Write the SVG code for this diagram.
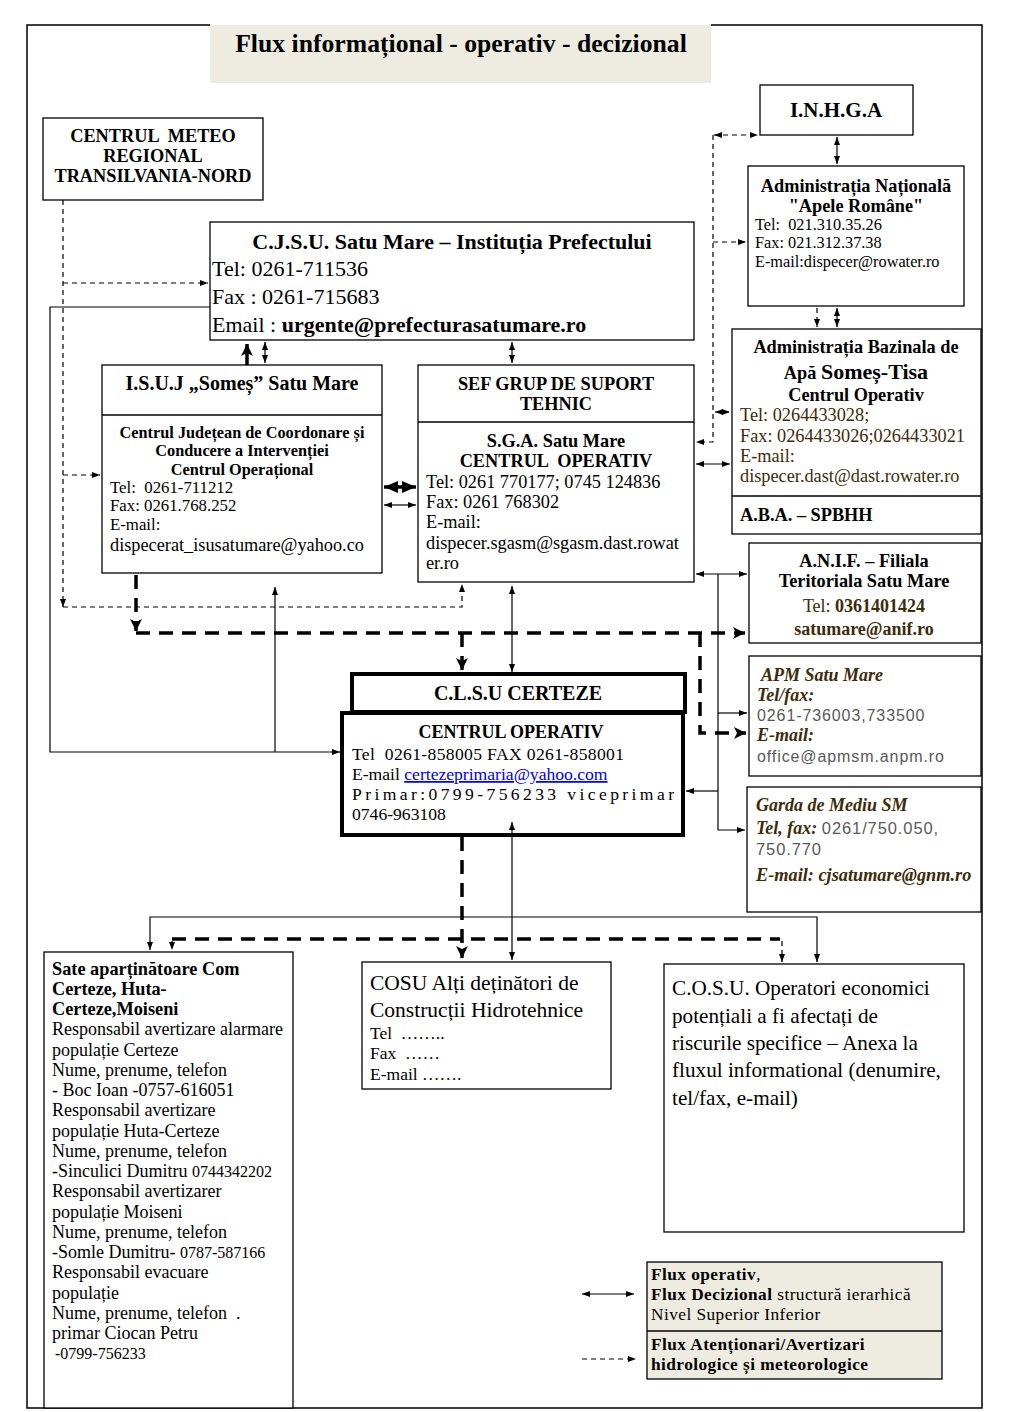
<svg xmlns="http://www.w3.org/2000/svg" width="1018" height="1412" viewBox="0 0 1018 1412">
<defs>
<marker id="a" viewBox="0 0 8 6" refX="8" refY="3" markerWidth="8" markerHeight="6" markerUnits="userSpaceOnUse" orient="auto-start-reverse"><path d="M0,0 L8,3 L0,6 z" fill="#000"/></marker>
<marker id="b" viewBox="0 0 12 12" refX="12" refY="6" markerWidth="12" markerHeight="12" markerUnits="userSpaceOnUse" orient="auto-start-reverse"><path d="M0,0 L12,6 L0,12 L3,6 z" fill="#000"/></marker>
<marker id="c" viewBox="0 0 14 12" refX="14" refY="6" markerWidth="14" markerHeight="12" markerUnits="userSpaceOnUse" orient="auto-start-reverse"><path d="M0,0 L14,6 L0,12 z" fill="#000"/></marker>
</defs>
<style>
text{font-family:"Liberation Serif","Times New Roman",serif;fill:#000}
.box{fill:#fff;stroke:#000;stroke-width:1.3}
.thick{fill:#fff;stroke:#000;stroke-width:4}
.fill{fill:#eeece1;stroke:#000;stroke-width:1.3}
.b{font-weight:bold}
.c{text-anchor:middle}
.br{fill:#3d2b0a}
.bi{font-weight:bold;font-style:italic;fill:#3d2b0a}
.sans{font-family:"Liberation Sans",Arial,sans-serif;fill:#595959}
.ln{fill:none;stroke:#000;stroke-width:1.2}
.dl{fill:none;stroke:#000;stroke-width:1.2;stroke-dasharray:5,4}
.tl{fill:none;stroke:#000;stroke-width:3.5;stroke-dasharray:14,9}
</style>
<rect width="1018" height="1412" fill="#fff"/>
<g id="frame" fill="none" stroke="#000" stroke-width="1.5">
<path d="M210,25 H27 V1408 H982 V25 H711"/>
</g>
<g id="title">
<rect x="210" y="25" width="501" height="58" fill="#eeece1"/>
<text x="461" y="52" class="b c" font-size="25.7">Flux informațional - operativ - decizional</text>
</g>
<g id="meteo">
<rect x="43" y="118" width="220" height="82" class="box"/>
<text class="b c" font-size="18.3" xml:space="preserve"><tspan x="153" y="142">CENTRUL  METEO</tspan><tspan x="153" y="162">REGIONAL</tspan><tspan x="153" y="182">TRANSILVANIA-NORD</tspan></text>
</g>
<g id="inhga">
<rect x="760" y="85" width="153" height="50" class="box"/>
<text x="836" y="117" class="b c" font-size="21">I.N.H.G.A</text>
</g>
<g id="anar">
<rect x="748" y="166" width="216" height="140" class="box"/>
<text class="b c" font-size="18.3"><tspan x="856" y="192">Administrația Națională</tspan><tspan x="856" y="212">"Apele Române"</tspan></text>
<text font-size="16.3" xml:space="preserve"><tspan x="755" y="230">Tel:  021.310.35.26</tspan><tspan x="755" y="248">Fax: 021.312.37.38</tspan><tspan x="755" y="267">E-mail:dispecer@rowater.ro</tspan></text>
</g>
<g id="cjsu">
<rect x="210" y="222" width="484" height="118" class="box"/>
<text x="452" y="249" class="b c" font-size="22">C.J.S.U. Satu Mare – Instituția Prefectului</text>
<text font-size="22"><tspan x="212" y="276">Tel: 0261-711536</tspan><tspan x="212" y="304">Fax : 0261-715683</tspan><tspan x="212" y="332">Email : <tspan class="b">urgente@prefecturasatumare.ro</tspan></tspan></text>
</g>
<g id="isuj">
<rect x="102" y="365" width="280" height="208" class="box"/>
<line x1="102" y1="415" x2="382" y2="415" stroke="#000" stroke-width="1.3"/>
<text x="242" y="390" class="b c" font-size="20">I.S.U.J „Someș” Satu Mare</text>
<text class="b c" font-size="16.3"><tspan x="242" y="438">Centrul Județean de Coordonare și</tspan><tspan x="242" y="456">Conducere a Intervenției</tspan><tspan x="242" y="475">Centrul Operațional</tspan></text>
<text font-size="16.8" xml:space="preserve"><tspan x="110" y="493">Tel:  0261-711212</tspan><tspan x="110" y="511">Fax: 0261.768.252</tspan><tspan x="110" y="530">E-mail:</tspan></text>
<text x="110" y="551" font-size="18.3">dispecerat_isusatumare@yahoo.co</text>
</g>
<g id="sgt">
<rect x="418" y="365" width="276" height="217" class="box"/>
<line x1="418" y1="422" x2="694" y2="422" stroke="#000" stroke-width="1.3"/>
<text class="b c" font-size="18.3" xml:space="preserve"><tspan x="556" y="390">SEF GRUP DE SUPORT</tspan><tspan x="556" y="410">TEHNIC</tspan><tspan x="556" y="447">S.G.A. Satu Mare</tspan><tspan x="556" y="467">CENTRUL  OPERATIV</tspan></text>
<text font-size="18.3"><tspan x="426" y="488">Tel: 0261 770177; 0745 124836</tspan><tspan x="426" y="508">Fax: 0261 768302</tspan><tspan x="426" y="528">E-mail:</tspan><tspan x="426" y="549">dispecer.sgasm@sgasm.dast.rowat</tspan><tspan x="426" y="569">er.ro</tspan></text>
</g>
<g id="aba">
<rect x="732" y="329" width="249" height="205" class="box"/>
<line x1="732" y1="496" x2="981" y2="496" stroke="#000" stroke-width="1.3"/>
<text class="b c" font-size="18.3"><tspan x="856" y="353">Administrația Bazinala de</tspan></text>
<text x="856" y="379" class="b c" font-size="18.3">Apă <tspan font-size="22">Someș-Tisa</tspan></text>
<text x="856" y="401" class="b c" font-size="18.3">Centrul Operativ</text>
<text class="br" font-size="18.3"><tspan x="740" y="421">Tel: 0264433028;</tspan><tspan x="740" y="442">Fax: 0264433026;0264433021</tspan><tspan x="740" y="462">E-mail:</tspan><tspan x="740" y="482">dispecer.dast@dast.rowater.ro</tspan></text>
<text x="740" y="521" class="b" font-size="18.3">A.B.A. – SPBHH</text>
</g>
<g id="anif">
<rect x="749" y="543" width="232" height="100" class="box"/>
<text class="b c" font-size="18.3"><tspan x="864" y="567">A.N.I.F. – Filiala</tspan><tspan x="864" y="587">Teritoriala Satu Mare</tspan></text>
<text x="864" y="612" class="c br" font-size="18">Tel: <tspan class="b">0361401424</tspan></text>
<text x="864" y="635" class="b c br" font-size="18">satumare@anif.ro</text>
</g>
<g id="apm">
<rect x="749" y="656" width="232" height="120" class="box"/>
<text x="761" y="681" class="bi" font-size="18">APM Satu Mare</text>
<text x="757" y="701" class="bi" font-size="18">Tel/fax:</text>
<text x="757" y="721" class="sans" font-size="16" letter-spacing="0.9">0261-736003,733500</text>
<text x="757" y="741" class="bi" font-size="18">E-mail:</text>
<text x="757" y="762" class="sans" font-size="16" letter-spacing="0.9">office@apmsm.anpm.ro</text>
</g>
<g id="garda">
<rect x="747" y="787" width="234" height="125" class="box"/>
<text x="756" y="811" class="bi" font-size="18">Garda de Mediu SM</text>
<text x="756" y="834" class="bi" font-size="18">Tel, fax: <tspan class="sans" font-style="normal" font-weight="normal" font-size="16.5" letter-spacing="0.9">0261/750.050,</tspan></text>
<text x="756" y="855" class="sans" font-size="16.5" letter-spacing="0.9">750.770</text>
<text x="756" y="881" class="bi" font-size="18.3">E-mail: cjsatumare@gnm.ro</text>
</g>
<g id="clsu">
<rect x="352" y="674" width="333" height="38" class="thick"/>
<text x="518" y="700" class="b c" font-size="20">C.L.S.U CERTEZE</text>
</g>
<g id="clsu-co">
<rect x="342" y="713" width="341" height="122" class="thick"/>
<text x="511" y="738" class="b c" font-size="18">CENTRUL OPERATIV</text>
<text x="352" y="760" font-size="17.6" xml:space="preserve" textLength="272" lengthAdjust="spacing">Tel  0261-858005 FAX 0261-858001</text>
<text x="352" y="780" font-size="17.6">E-mail <tspan fill="#0000ee" text-decoration="underline">certezeprimaria@yahoo.com</tspan></text>
<text x="352" y="800" font-size="17.6" textLength="322" lengthAdjust="spacing">Primar:0799-756233 viceprimar</text>
<text x="352" y="820" font-size="17.6">0746-963108</text>
</g>
<g id="sate">
<rect x="44" y="952" width="249" height="456" class="box"/>
<text class="b" font-size="18.3"><tspan x="52" y="975">Sate aparținătoare Com</tspan><tspan x="52" y="995">Certeze, Huta-</tspan><tspan x="52" y="1015">Certeze,Moiseni</tspan></text>
<text font-size="18" xml:space="preserve"><tspan x="52" y="1035">Responsabil avertizare alarmare</tspan><tspan x="52" y="1056">populație Certeze</tspan><tspan x="52" y="1076">Nume, prenume, telefon</tspan><tspan x="52" y="1096">- Boc Ioan -0757-616051</tspan><tspan x="52" y="1116">Responsabil avertizare</tspan><tspan x="52" y="1137">populație Huta-Certeze</tspan><tspan x="52" y="1157">Nume, prenume, telefon</tspan><tspan x="52" y="1177">-Sinculici Dumitru <tspan font-size="16">0744342202</tspan></tspan><tspan x="52" y="1197">Responsabil avertizarer</tspan><tspan x="52" y="1218">populație Moiseni</tspan><tspan x="52" y="1238">Nume, prenume, telefon</tspan><tspan x="52" y="1258">-Somle Dumitru- <tspan font-size="16">0787-587166</tspan></tspan><tspan x="52" y="1278">Responsabil evacuare</tspan><tspan x="52" y="1299">populație</tspan><tspan x="52" y="1319">Nume, prenume, telefon  .</tspan><tspan x="52" y="1339">primar Ciocan Petru</tspan></text>
<text x="55" y="1359" font-size="16">-0799-756233</text>
</g>
<g id="cosu-alti">
<rect x="362" y="962" width="249" height="127" class="box"/>
<text font-size="21.5"><tspan x="370" y="990">COSU Alți deținători de</tspan><tspan x="370" y="1017">Construcții Hidrotehnice</tspan></text>
<text font-size="17.5" xml:space="preserve"><tspan x="370" y="1039">Tel  ……..</tspan><tspan x="370" y="1059">Fax  ……</tspan><tspan x="370" y="1080">E-mail …….</tspan></text>
</g>
<g id="cosu-op">
<rect x="664" y="964" width="300" height="268" class="box"/>
<text font-size="21.2"><tspan x="672" y="995">C.O.S.U. Operatori economici</tspan><tspan x="672" y="1023">potențiali a fi afectați de</tspan><tspan x="672" y="1050">riscurile specifice – Anexa la</tspan><tspan x="672" y="1077">fluxul informational (denumire,</tspan><tspan x="672" y="1105">tel/fax, e-mail)</tspan></text>
</g>
<g id="legend">
<rect x="647" y="1262" width="295" height="117" class="fill"/>
<line x1="647" y1="1331" x2="942" y2="1331" stroke="#000" stroke-width="1.3"/>
<text font-size="17.3" letter-spacing="0.45"><tspan x="651" y="1280"><tspan class="b">Flux operativ</tspan>,</tspan><tspan x="651" y="1300"><tspan class="b">Flux Decizional</tspan> structură ierarhică</tspan><tspan x="651" y="1320">Nivel Superior Inferior</tspan></text>
<text class="b" font-size="17.3" letter-spacing="0.45"><tspan x="651" y="1350">Flux Atenționari/Avertizari</tspan><tspan x="651" y="1370">hidrologice și meteorologice</tspan></text>
<path d="M582,1294 H634" class="ln" marker-start="url(#a)" marker-end="url(#a)"/>
<path d="M582,1359 H636" class="dl" marker-end="url(#a)"/>
</g>
<g id="connectors">
<path d="M837,137 V164" class="ln" marker-start="url(#a)" marker-end="url(#a)"/>
<path d="M817,308 V327" class="dl" marker-end="url(#a)"/>
<path d="M837,308 V327" class="ln" marker-start="url(#a)" marker-end="url(#a)"/>
<path d="M714,135 H758" class="dl" marker-start="url(#a)" marker-end="url(#a)"/>
<path d="M713,135 V442 H696" class="dl" marker-end="url(#a)"/>
<path d="M713,242 H746" class="dl" marker-end="url(#a)"/>
<path d="M715,412 H730" class="dl" marker-start="url(#a)" marker-end="url(#a)"/>
<path d="M696,464 H730" class="ln" marker-start="url(#a)" marker-end="url(#a)"/>
<path d="M696,574 H747" class="ln" marker-start="url(#a)" marker-end="url(#a)"/>
<path d="M718,574 V830 H745" class="ln" marker-end="url(#a)"/>
<path d="M718,713 H747" class="ln" marker-end="url(#a)"/>
<path d="M718,791 H686" class="ln" marker-end="url(#a)"/>
<path d="M136,575 V631" class="tl" marker-end="url(#b)"/>
<path d="M136,633 H745" class="tl" marker-end="url(#b)"/>
<path d="M462,633 V670" class="tl" marker-end="url(#b)"/>
<path d="M700,633 V733 H746" class="tl" marker-end="url(#b)"/>
<path d="M63,200 V607" class="dl" marker-end="url(#a)"/>
<path d="M63,607 H462 V584" class="dl" marker-end="url(#a)"/>
<path d="M63,283 H208" class="dl" marker-end="url(#a)"/>
<path d="M63,475 H100" class="dl" marker-end="url(#a)"/>
<path d="M210,307 H50 V752 H340" class="ln" marker-end="url(#a)"/>
<path d="M275,752 V587" class="ln" marker-end="url(#a)"/>
<path d="M512,342 V363" class="ln" marker-start="url(#a)" marker-end="url(#a)"/>
<path d="M512,586 V672" class="ln" marker-start="url(#a)" marker-end="url(#a)"/>
<path d="M512,822 V960" class="ln" marker-start="url(#a)" marker-end="url(#a)"/>
<path d="M462,837 V958" class="tl" marker-end="url(#b)"/>
<path d="M150,950 V917 H817 V962" class="ln" marker-start="url(#a)" marker-end="url(#a)"/>
<path d="M172,939 H780" class="tl"/>
<path d="M172,941 V950" class="dl" stroke-dasharray="3,2" marker-end="url(#a)"/>
<path d="M782,941 V962" class="dl" stroke-dasharray="3,2" marker-end="url(#a)"/>
<path d="M247,365 V344" fill="none" stroke="#000" stroke-width="3.5" marker-end="url(#b)"/>
<path d="M265,342 V363" class="ln" marker-start="url(#a)" marker-end="url(#a)"/>
<path d="M384,487 H416" fill="none" stroke="#000" stroke-width="3.5" marker-start="url(#c)" marker-end="url(#c)"/>
<path d="M384,505 H416" class="ln" marker-start="url(#a)" marker-end="url(#a)"/>
</g>
</svg>
